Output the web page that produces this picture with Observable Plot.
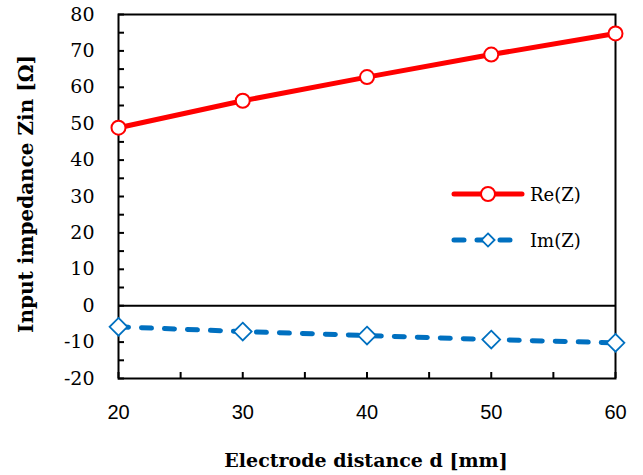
<!DOCTYPE html>
<html>
<head>
<meta charset="utf-8">
<script src="https://cdn.jsdelivr.net/npm/d3@7"></script>
<script src="https://cdn.jsdelivr.net/npm/@observablehq/plot@0.6"></script>
<style>
  html, body { margin: 0; padding: 0; background: #fff; }
  #chart { position: relative; width: 643px; height: 475px; }
  #legend { position: absolute; left: 450px; top: 176px; }
  #legend text { font-family: "DejaVu Serif"; font-size: 18px; fill: #000; }
</style>
</head>
<body>
<div id="chart"></div>
<script>
// Electrode distance d [mm]
const distance = [20, 30, 40, 50, 60];
// Real part of input impedance [Ω]
const reZ = [48.9, 56.3, 62.8, 69.0, 74.8];
// Imaginary part of input impedance [Ω]
const imZ = [-5.8, -7.1, -8.2, -9.3, -10.2];
const xTicks = [20, 30, 40, 50, 60];
const yTicks = [80, 70, 60, 50, 40, 30, 20, 10, 0, -10, -20];
const seriesNames = ["Re(Z)", "Im(Z)"];

const re = distance.map((d, i) => ({d, v: reZ[i]}));
const im = distance.map((d, i) => ({d, v: imZ[i]}));

const red = "#ff0000";
const blue = "#0070c0";
const serif = "DejaVu Serif";
const sans = "Liberation Sans";

const plot = Plot.plot({
  width: 643,
  height: 475,
  marginLeft: 118,
  marginRight: 28,
  marginTop: 14,
  marginBottom: 97,
  style: {background: "#fff", overflow: "visible"},
  x: {domain: [20, 60]},
  y: {domain: [-20, 80]},
  marks: [
    // inward minor/major ticks
    Plot.axisY(d3.range(-20, 81, 5), {tickSize: -6, tickFormat: () => "", strokeWidth: 2, label: null}),
    Plot.axisX(d3.range(20, 61, 5), {tickSize: -6, tickFormat: () => "", strokeWidth: 2, label: null}),
    // tick labels
    Plot.axisY(yTicks, {tickSize: 0, tickPadding: 24, label: null, tickFormat: d => String(d), fontFamily: serif, fontSize: 19}),
    Plot.axisX(xTicks, {tickSize: 0, tickPadding: 26, label: null, fontFamily: sans, fontSize: 20}),
    Plot.frame({stroke: "#000", strokeWidth: 2}),
    Plot.ruleY([0], {stroke: "#000", strokeWidth: 2}),
    // Im(Z)
    Plot.line(im, {x: "d", y: "v", stroke: blue, strokeWidth: 5, strokeDasharray: "10,13", strokeLinecap: "round"}),
    Plot.dot(im, {x: "d", y: "v", symbol: "diamond2", r: 8, fill: "#fff", stroke: blue, strokeWidth: 1.8}),
    // Re(Z)
    Plot.line(re, {x: "d", y: "v", stroke: red, strokeWidth: 5}),
    Plot.dot(re, {x: "d", y: "v", r: 7, fill: "#fff", stroke: red, strokeWidth: 2})
  ]
});

const svg = d3.select(plot);

// axis titles
svg.append("text")
  .attr("x", 366).attr("y", 467)
  .attr("text-anchor", "middle")
  .style("font-family", serif).style("font-weight", "bold").style("font-size", "19px")
  .text("Electrode distance d [mm]");
svg.append("text")
  .attr("transform", "translate(33,194) rotate(-90)")
  .attr("text-anchor", "middle")
  .style("font-family", serif).style("font-weight", "bold").style("font-size", "20px")
  .text("Input impedance Zin [Ω]");

document.getElementById("chart").appendChild(plot);

// legend
const lg = d3.select("#chart").append("div").attr("id", "legend")
  .append("svg").attr("width", 150).attr("height", 80);
const r0 = lg.append("g").attr("transform", "translate(0,18)");
r0.append("line").attr("x1", 4).attr("x2", 72).attr("stroke", red).attr("stroke-width", 5).attr("stroke-linecap", "round");
r0.append("circle").attr("cx", 38).attr("r", 7).attr("fill", "#fff").attr("stroke", red).attr("stroke-width", 2);
r0.append("text").attr("x", 80).attr("y", 7).text(seriesNames[0]);
const r1 = lg.append("g").attr("transform", "translate(0,64)");
r1.append("line").attr("x1", 4).attr("x2", 72).attr("stroke", blue).attr("stroke-width", 5)
  .attr("stroke-dasharray", "10,13").attr("stroke-linecap", "round");
r1.append("path").attr("transform", "translate(38,0)").attr("d", d3.symbol(d3.symbolDiamond2, 110)())
  .attr("fill", "#fff").attr("stroke", blue).attr("stroke-width", 1.8);
r1.append("text").attr("x", 80).attr("y", 7).text(seriesNames[1]);
</script>
</body>
</html>
